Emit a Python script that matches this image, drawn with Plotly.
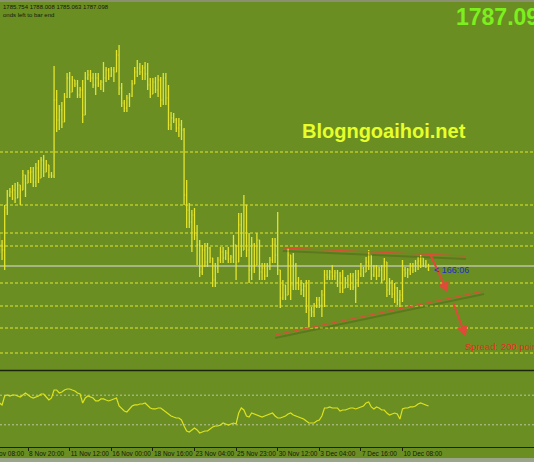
import plotly.graph_objects as go

# ---------------- data ----------------
bar_index = list(range(166))

opens = [1798.0, 1795.5, 1793.5, 1810.3, 1815.5, 1816.7, 1817.5, 1814.3, 1819.5, 1817.5,
         1823.5, 1820.3, 1824.5, 1824.7, 1820.7, 1826.3, 1822.3, 1829.5, 1824.7, 1827.5,
         1823.5, 1823.1, 1853.5, 1845.5, 1849.5, 1844.7, 1854.7, 1862.3, 1856.7, 1861.5,
         1859.9, 1855.5, 1857.5, 1847.5, 1862.3, 1863.5, 1862.3, 1859.5, 1862.3, 1859.9,
         1860.7, 1862.3, 1865.5, 1863.1, 1865.5, 1864.7, 1871.5, 1858.3, 1852.3, 1850.3,
         1854.3, 1855.1, 1859.9, 1864.7, 1866.3, 1864.7, 1866.3, 1863.9, 1859.5, 1855.9,
         1860.7, 1857.5, 1861.5, 1853.5, 1862.3, 1854.3, 1843.5, 1846.3, 1845.5, 1842.3,
         1843.5, 1841.5, 1815.5, 1809.5, 1804.7, 1807.5, 1799.5, 1795.5, 1784.7, 1793.5,
         1788.7, 1794.3, 1790.3, 1781.5, 1786.3, 1789.5, 1792.7, 1790.3, 1792.3, 1789.9,
         1790.7, 1795.5, 1788.7, 1803.5, 1793.5, 1811.5, 1793.5, 1785.5, 1795.5, 1787.5,
         1797.5, 1784.7, 1786.3, 1783.1, 1787.1, 1789.5, 1795.5, 1791.5, 1785.5, 1774.3,
         1779.5, 1775.5, 1791.5, 1779.5, 1787.5, 1780.3, 1779.5, 1777.5, 1779.1, 1770.3,
         1769.5, 1768.7, 1771.1, 1773.5, 1771.5, 1775.5, 1783.5, 1782.7, 1784.7, 1783.1,
         1784.3, 1780.3, 1783.1, 1778.3, 1781.5, 1779.5, 1783.1, 1778.7, 1781.5, 1783.9,
         1786.3, 1784.7, 1788.7, 1791.5, 1783.5, 1786.3, 1783.1, 1785.5, 1781.5, 1788.7,
         1777.5, 1780.7, 1775.9, 1778.3, 1773.5, 1775.5, 1785.5, 1784.3, 1785.5, 1787.1,
         1785.5, 1788.3, 1789.1, 1790.3, 1787.9, 1785.754]

highs = [1800.3, 1797.5, 1811.5, 1817.5, 1818.3, 1819.5, 1820.3, 1820.7, 1819.5, 1825.5,
         1823.5, 1825.5, 1826.7, 1826.7, 1828.3, 1829.5, 1830.7, 1831.5, 1829.5, 1827.5,
         1824.7, 1867.1, 1857.5, 1851.5, 1852.7, 1856.3, 1864.3, 1864.7, 1863.1, 1861.5,
         1861.5, 1858.7, 1861.5, 1864.7, 1865.5, 1865.5, 1864.3, 1864.3, 1864.3, 1861.5,
         1868.7, 1866.7, 1866.3, 1866.7, 1866.7, 1873.5, 1875.5, 1860.3, 1853.5, 1855.5,
         1856.3, 1861.5, 1866.7, 1869.5, 1868.3, 1867.5, 1868.7, 1868.3, 1862.3, 1862.3,
         1862.7, 1863.5, 1862.7, 1864.3, 1864.3, 1859.5, 1848.7, 1848.3, 1846.3, 1846.3,
         1845.5, 1842.3, 1821.5, 1812.3, 1809.5, 1810.3, 1803.5, 1797.5, 1795.5, 1796.3,
         1796.3, 1794.7, 1790.3, 1788.3, 1790.7, 1794.7, 1794.7, 1793.5, 1794.7, 1791.5,
         1799.5, 1795.5, 1808.3, 1808.3, 1815.5, 1811.5, 1800.3, 1798.7, 1796.3, 1800.3,
         1797.5, 1788.3, 1788.3, 1788.3, 1790.7, 1798.3, 1798.3, 1808.7, 1785.5, 1781.5,
         1779.5, 1794.3, 1791.5, 1792.3, 1788.3, 1782.7, 1781.5, 1780.3, 1781.5, 1781.5,
         1770.7, 1772.3, 1774.7, 1774.7, 1777.5, 1785.5, 1785.5, 1785.5, 1787.5, 1785.5,
         1785.5, 1784.7, 1785.5, 1782.7, 1783.5, 1784.3, 1784.3, 1785.5, 1785.5, 1788.3,
         1786.7, 1790.7, 1793.5, 1791.5, 1787.5, 1787.5, 1786.7, 1787.5, 1790.3, 1788.7,
         1782.3, 1781.5, 1780.3, 1778.7, 1777.5, 1789.5, 1786.7, 1786.3, 1788.3, 1788.3,
         1789.5, 1790.7, 1791.5, 1790.3, 1789.5, 1788.008]

lows = [1792.3, 1789.5, 1785.5, 1807.5, 1814.7, 1813.5, 1812.3, 1814.3, 1811.5, 1817.5,
        1814.7, 1820.3, 1820.3, 1818.7, 1818.7, 1820.3, 1822.3, 1822.7, 1824.7, 1822.3,
        1822.3, 1822.3, 1840.7, 1841.5, 1842.3, 1844.7, 1854.3, 1854.3, 1856.7, 1858.7,
        1854.3, 1854.3, 1844.3, 1847.5, 1861.5, 1860.7, 1858.3, 1855.5, 1858.7, 1857.5,
        1856.7, 1860.7, 1861.5, 1862.7, 1860.7, 1864.7, 1855.5, 1850.7, 1848.7, 1848.7,
        1850.7, 1854.7, 1859.9, 1862.7, 1863.5, 1861.5, 1861.5, 1857.5, 1854.3, 1855.9,
        1856.3, 1854.7, 1850.7, 1851.5, 1851.5, 1841.5, 1841.5, 1844.3, 1840.7, 1838.7,
        1837.5, 1811.5, 1802.3, 1802.3, 1792.7, 1797.5, 1787.5, 1782.7, 1783.5, 1786.7,
        1786.7, 1788.3, 1778.7, 1778.7, 1784.3, 1788.3, 1788.3, 1789.5, 1788.3, 1788.3,
        1788.3, 1781.5, 1788.7, 1790.7, 1793.5, 1790.7, 1780.3, 1781.5, 1784.3, 1787.5,
        1781.5, 1781.5, 1781.5, 1782.7, 1785.5, 1788.3, 1788.3, 1783.5, 1770.3, 1773.5,
        1773.5, 1775.5, 1773.5, 1777.5, 1777.5, 1777.5, 1775.5, 1774.7, 1768.3, 1762.3,
        1766.7, 1766.7, 1770.3, 1770.3, 1766.7, 1770.7, 1781.5, 1781.5, 1781.5, 1781.5,
        1778.7, 1776.3, 1776.3, 1778.3, 1778.3, 1777.5, 1777.5, 1772.3, 1778.7, 1782.7,
        1782.7, 1784.7, 1785.5, 1781.5, 1782.7, 1781.5, 1782.7, 1780.3, 1781.5, 1774.7,
        1775.5, 1774.3, 1772.3, 1771.5, 1770.7, 1772.7, 1782.7, 1782.3, 1783.5, 1784.3,
        1784.7, 1785.5, 1786.3, 1786.7, 1786.3, 1785.063]

closes = [1795.5, 1793.5, 1810.3, 1815.5, 1816.7, 1817.5, 1814.3, 1819.5, 1817.5, 1823.5,
          1820.3, 1824.5, 1824.7, 1820.7, 1826.3, 1822.3, 1829.5, 1824.7, 1827.5, 1823.5,
          1823.1, 1853.5, 1845.5, 1849.5, 1844.7, 1854.7, 1862.3, 1856.7, 1861.5, 1859.9,
          1855.5, 1857.5, 1847.5, 1862.3, 1863.5, 1862.3, 1859.5, 1862.3, 1859.9, 1860.7,
          1862.3, 1865.5, 1863.1, 1865.5, 1864.7, 1871.5, 1858.3, 1852.3, 1850.3, 1854.3,
          1855.1, 1859.9, 1864.7, 1866.3, 1864.7, 1866.3, 1863.9, 1859.5, 1855.9, 1860.7,
          1857.5, 1861.5, 1853.5, 1862.3, 1854.3, 1843.5, 1846.3, 1845.5, 1842.3, 1843.5,
          1841.5, 1815.5, 1809.5, 1804.7, 1807.5, 1799.5, 1795.5, 1784.7, 1793.5, 1788.7,
          1794.3, 1790.3, 1781.5, 1786.3, 1789.5, 1792.7, 1790.3, 1792.3, 1789.9, 1790.7,
          1795.5, 1788.7, 1803.5, 1793.5, 1811.5, 1793.5, 1785.5, 1795.5, 1787.5, 1797.5,
          1784.7, 1786.3, 1783.1, 1787.1, 1789.5, 1795.5, 1791.5, 1785.5, 1774.3, 1779.5,
          1775.5, 1791.5, 1779.5, 1787.5, 1780.3, 1779.5, 1777.5, 1779.1, 1770.3, 1769.5,
          1768.7, 1771.1, 1773.5, 1771.5, 1775.5, 1783.5, 1782.7, 1784.7, 1783.1, 1784.3,
          1780.3, 1783.1, 1778.3, 1781.5, 1779.5, 1783.1, 1778.7, 1781.5, 1783.9, 1786.3,
          1784.7, 1788.7, 1791.5, 1783.5, 1786.3, 1783.1, 1785.5, 1781.5, 1788.7, 1777.5,
          1780.7, 1775.9, 1778.3, 1773.5, 1775.5, 1785.5, 1784.3, 1785.5, 1787.1, 1785.5,
          1788.3, 1789.1, 1790.3, 1787.9, 1788.7, 1787.098]

osc_values = [59.5, 56.8, 68.9, 70.3, 68.9, 70.3, 70.3, 68.9, 67.6, 70.3,
              73.0, 70.3, 67.6, 66.2, 67.6, 68.9, 71.6, 71.6, 67.6, 63.5,
              66.2, 77.0, 77.0, 73.0, 74.3, 77.0, 78.4, 78.4, 77.0, 75.7,
              73.0, 71.6, 59.5, 66.2, 68.9, 67.6, 66.2, 62.2, 62.2, 64.9,
              64.9, 63.5, 62.2, 63.5, 64.9, 66.2, 55.4, 51.4, 48.6, 47.3,
              51.4, 55.4, 56.8, 56.8, 58.1, 58.1, 59.5, 55.4, 52.7, 51.4,
              51.4, 52.7, 52.7, 50.0, 47.3, 44.6, 41.9, 40.5, 39.2, 39.2,
              36.5, 28.4, 21.6, 20.3, 23.0, 25.7, 23.0, 18.9, 20.3, 21.6,
              21.6, 24.3, 27.0, 28.4, 28.4, 29.7, 32.4, 31.1, 29.7, 31.1,
              32.4, 31.1, 45.9, 52.7, 50.0, 41.9, 40.5, 45.9, 44.6, 43.2,
              41.9, 40.5, 41.9, 43.2, 44.6, 45.9, 41.9, 39.2, 39.2, 40.5,
              41.9, 44.6, 45.9, 43.2, 41.9, 40.5, 39.2, 37.8, 35.1, 32.4,
              32.4, 32.4, 35.1, 36.5, 41.9, 52.7, 52.7, 54.1, 52.7, 52.7,
              52.7, 48.6, 50.0, 50.0, 51.4, 52.7, 52.7, 51.4, 52.7, 54.1,
              55.4, 59.5, 60.8, 54.1, 51.4, 54.1, 52.7, 50.0, 50.0, 45.9,
              43.2, 44.6, 45.9, 44.6, 37.8, 51.4, 52.7, 52.7, 54.1, 54.1,
              55.4, 58.1, 59.5, 58.1, 56.8, 55.4]
osc_levels = [70, 30]

level_prices = [1832.7, 1811.5, 1800.3, 1795.1, 1780.3, 1771.1, 1762.3, 1752.3]
bid_price = 1787.098

tick_bars = [11, 27, 43, 59, 75, 91, 107, 123, 139, 155]
tick_text = ["8 Nov 20:00", "11 Nov 12:00", "16 Nov 00:00", "18 Nov 16:00", "23 Nov 04:00",
             "25 Nov 23:00", "30 Nov 12:00", "3 Dec 04:00", "7 Dec 16:00", "10 Dec 08:00"]
cut_label_text = "5 Nov 08:00"

upper_line_x = [109.0, 179.4]
upper_line_y = [1794.3, 1791.1]
lower_line_x = [106.0, 186.4]
lower_line_y = [1759.5, 1777.1]
arrows = [  # (x_from, y_from, x_to, y_to)
    (165.6, 1791.9, 172.5, 1776.3),
    (174.4, 1772.7, 179.4, 1758.7),
]

header_ohlc = "1785.754 1788.008 1785.063 1787.098"
header_timer = "onds left to bar end"
big_price = "1787.098"
watermark = "Blogngoaihoi.net"
spread_text = "Spread: 200 points"
timer_text = "< 166:06"
timer_pos = (166.2, 1785.6)
spread_pos = (178.2, 1755.0)

# ---------------- style ----------------
BG = "#6B8E23"
BAR = "#E4E42C"
OSC = "#DCE31C"
LEVEL = "#E2E62A"
RED = "#E24A38"
DARK = "#1b2408"

fig = go.Figure()

fig.add_trace(go.Ohlc(
    x=bar_index, open=opens, high=highs, low=lows, close=closes,
    increasing=dict(line=dict(color=BAR, width=1.3)),
    decreasing=dict(line=dict(color=BAR, width=1.3)),
    tickwidth=0.3, hoverinfo="skip", xaxis="x", yaxis="y"))

# trend line shadows + lines
for xs, ys in [(upper_line_x, upper_line_y), (lower_line_x, lower_line_y)]:
    fig.add_trace(go.Scatter(x=xs, y=[v - 1.2 for v in ys], mode="lines",
                             line=dict(color="rgba(40,50,15,0.22)", width=2),
                             hoverinfo="skip", xaxis="x", yaxis="y"))
    fig.add_trace(go.Scatter(x=xs, y=ys, mode="lines",
                             line=dict(color=RED, width=1),
                             hoverinfo="skip", xaxis="x", yaxis="y"))

fig.add_trace(go.Scatter(x=bar_index, y=osc_values, mode="lines",
                         line=dict(color=OSC, width=1.2),
                         hoverinfo="skip", xaxis="x", yaxis="y2"))

shapes = []
for lv in level_prices:
    shapes.append(dict(type="line", xref="paper", x0=0, x1=1, yref="y", y0=lv, y1=lv,
                       line=dict(color=LEVEL, width=1, dash="3px,2px"), layer="below"))
shapes.append(dict(type="line", xref="paper", x0=0, x1=1, yref="y", y0=bid_price, y1=bid_price,
                   line=dict(color="rgba(200,204,185,0.85)", width=1.5), layer="below"))
for lv in osc_levels:
    shapes.append(dict(type="line", xref="paper", x0=0, x1=1, yref="y2", y0=lv, y1=lv,
                       line=dict(color="rgba(205,210,185,0.8)", width=1, dash="2px,2px"), layer="below"))
# panel separator
shapes.append(dict(type="line", xref="paper", x0=0, x1=1, yref="paper",
                   y0=1 - 370.5 / 462, y1=1 - 370.5 / 462, line=dict(color=DARK, width=1.6)))
# top strip
shapes.append(dict(type="rect", xref="paper", x0=0, x1=1, yref="paper",
                   y0=1 - 2 / 462, y1=1, line=dict(width=0), fillcolor="#8a9070"))
# bottom strip
shapes.append(dict(type="rect", xref="paper", x0=0, x1=1, yref="paper",
                   y0=0, y1=4 / 462, line=dict(width=0), fillcolor="#9aa58a"))

annotations = []
for (x0, y0, x1, y1) in arrows:
    annotations.append(dict(x=x1, y=y1, ax=x0, ay=y0, xref="x", yref="y", axref="x", ayref="y",
                            showarrow=True, arrowhead=2, arrowsize=1.1, arrowwidth=2,
                            arrowcolor=RED, text=""))
annotations.append(dict(x=spread_pos[0], y=spread_pos[1], xref="x", yref="y", text=spread_text,
                        showarrow=False, xanchor="left", yanchor="middle",
                        font=dict(family="Liberation Sans", size=9.5, color="#EE2A1E")))
annotations.append(dict(x=timer_pos[0], y=timer_pos[1], xref="x", yref="y", text=timer_text,
                        showarrow=False, xanchor="left", yanchor="middle",
                        font=dict(family="Liberation Sans", size=9, color="#1c2fc8")))
annotations.append(dict(x=300 / 534, y=1 - 131 / 462, xref="paper", yref="paper", text=watermark,
                        showarrow=False, xanchor="left", yanchor="middle",
                        font=dict(family="Liberation Sans", size=20, color="#E6FF2A", weight="bold")))
annotations.append(dict(x=454 / 534, y=1 - 17 / 462, xref="paper", yref="paper", text=big_price,
                        showarrow=False, xanchor="left", yanchor="middle",
                        font=dict(family="Liberation Sans", size=23, color="#7CF01E", weight="bold")))
annotations.append(dict(x=1 / 534, y=1 - 7 / 462, xref="paper", yref="paper", text=header_ohlc,
                        showarrow=False, xanchor="left", yanchor="middle",
                        font=dict(family="Liberation Sans", size=6, color="#141a06")))
annotations.append(dict(x=1 / 534, y=1 - 15 / 462, xref="paper", yref="paper", text=header_timer,
                        showarrow=False, xanchor="left", yanchor="middle",
                        font=dict(family="Liberation Sans", size=6, color="#141a06")))
# first time label, mostly scrolled off the left edge
annotations.append(dict(x=-13.5 / 534, y=1 - 453 / 462, xref="paper", yref="paper", text=cut_label_text,
                        showarrow=False, xanchor="left", yanchor="middle",
                        font=dict(family="Liberation Sans", size=6.5, color="#141a06")))

fig.update_layout(
    width=534, height=462, margin=dict(l=0, r=0, t=0, b=0),
    paper_bgcolor=BG, plot_bgcolor=BG, showlegend=False,
    xaxis=dict(range=[0.2, 205.58], anchor="y2", tickvals=tick_bars, ticktext=tick_text,
               ticks="outside", ticklen=3, tickcolor=DARK, tickwidth=1, tickangle=0,
               showline=True, linecolor=DARK, linewidth=1, showgrid=False, zeroline=False,
               ticklabelposition="outside right",
               tickfont=dict(family="Liberation Sans", size=6.5, color="#141a06"),
               rangeslider=dict(visible=False), fixedrange=True),
    yaxis=dict(domain=[1 - 370 / 462, 1 - 3 / 462], range=[1745.5, 1892.3], visible=False,
               fixedrange=True),
    yaxis2=dict(domain=[1 - 447 / 462, 1 - 373 / 462], range=[0, 100], visible=False,
                fixedrange=True),
    shapes=shapes, annotations=annotations,
)

fig.write_html("out.html", config={"displayModeBar": False},
               post_script="document.body.style.margin='0';document.body.style.padding='0';"
                           "document.body.style.overflow='hidden';")
